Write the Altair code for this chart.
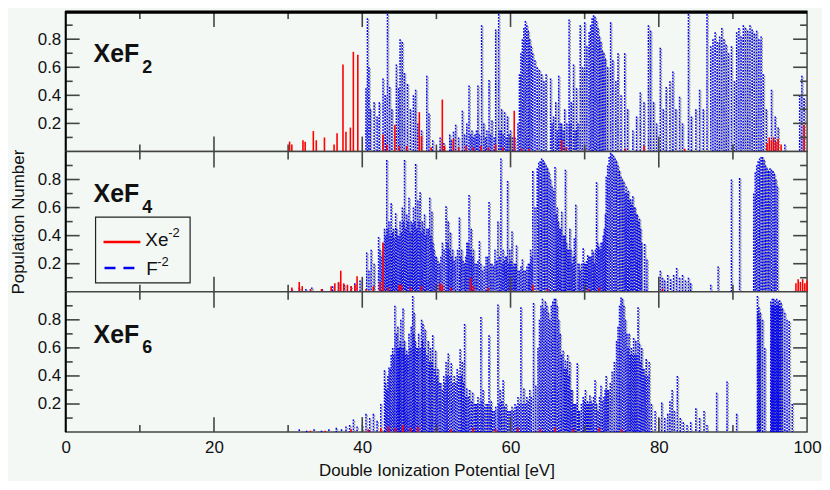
import altair as alt
import pandas as pd

# ---------------- axis values ----------------
X_DOMAIN = [0, 100]
Y_DOMAIN = [0, 1]
X_LABELS = [0, 20, 40, 60, 80, 100]
Y_LABELS = [0.2, 0.4, 0.6, 0.8]
Y_MINOR = [0.1, 0.3, 0.5, 0.7, 0.9]
X_MAJOR = [20, 40, 60, 80]
X_MINOR = [10, 30, 50, 70, 90]

# ---------------- XeF2 ----------------
XEF2_F = [
    (40.5, 0.45), (40.7, 0.95), (40.9, 0.6), (41.1, 0.3), (41.6, 0.35), (42.0, 0.25), (42.3, 0.35),
    (42.8, 0.52), (43.1, 0.4), (43.4, 0.98), (43.7, 0.46), (44.0, 0.3), (44.6, 0.62), (44.9, 0.45),
    (45.1, 0.8), (45.4, 0.78), (45.7, 0.56), (46.1, 0.48), (46.5, 0.3), (46.9, 0.4), (47.2, 0.44),
    (47.5, 0.2), (48.0, 0.15), (48.7, 0.54), (49.0, 0.27), (49.5, 0.08), (50.5, 0.1), (51.0, 0.06),
    (51.8, 0.12), (52.3, 0.14), (52.6, 0.19), (53.0, 0.1), (53.5, 0.29), (53.8, 0.12), (54.1, 0.2),
    (54.4, 0.47), (54.8, 0.15), (55.2, 0.12), (55.6, 0.47), (56.1, 0.9), (56.4, 0.2), (56.8, 0.15),
    (57.1, 0.51), (57.5, 0.22), (58.0, 0.87), (58.4, 0.98), (58.8, 0.3), (59.2, 0.28), (59.6, 0.25),
    (60.0, 0.15), (60.3, 0.1),
    (61.2, 0.55), (61.4, 0.7), (61.6, 0.8), (61.8, 0.88), (62.0, 0.93), (62.2, 0.9), (62.4, 0.86),
    (62.6, 0.8), (62.8, 0.75), (63.0, 0.7), (63.3, 0.65), (63.6, 0.6), (63.9, 0.58), (64.2, 0.55),
    (64.5, 0.5), (64.8, 0.55), (65.4, 0.52),
    (65.8, 0.25), (66.1, 0.35), (66.5, 0.54), (66.9, 0.2), (67.3, 0.3), (67.9, 0.94), (68.2, 0.35),
    (68.5, 0.62), (68.9, 0.45), (69.4, 0.9), (69.7, 0.6), (70.0, 0.92), (70.3, 0.75), (70.6, 0.85),
    (70.8, 0.9), (71.0, 0.95), (71.2, 0.97), (71.4, 0.96), (71.6, 0.93), (71.8, 0.88), (72.0, 0.82),
    (72.2, 0.78), (72.4, 0.72), (72.6, 0.7), (72.8, 0.66), (73.1, 0.6), (73.5, 0.92), (73.8, 0.65),
    (74.2, 0.5), (74.5, 0.7), (74.9, 0.4), (75.4, 0.7), (75.8, 0.3), (76.5, 0.15), (77.0, 0.25),
    (77.5, 0.42), (78.0, 0.35), (78.6, 0.9), (78.9, 0.86), (79.3, 0.35), (79.7, 0.2), (80.2, 0.74),
    (80.6, 0.3), (81.0, 0.46), (81.5, 0.5), (81.9, 0.57), (82.3, 0.3), (82.8, 0.39), (83.2, 0.2),
    (84.0, 0.98), (84.4, 0.25), (85.0, 0.3), (85.5, 0.44), (86.0, 0.3), (86.5, 0.98), (87.0, 0.75),
    (87.3, 0.8), (87.6, 0.85), (87.9, 0.78), (88.2, 0.82), (88.5, 0.88), (88.8, 0.8), (89.1, 0.76),
    (89.4, 0.7), (89.8, 0.75), (90.2, 0.5), (90.5, 0.85), (90.8, 0.88), (91.1, 0.82), (91.4, 0.9),
    (91.7, 0.88), (92.0, 0.86), (92.3, 0.9), (92.6, 0.87), (92.9, 0.84), (93.2, 0.86), (93.5, 0.8),
    (93.8, 0.82), (94.1, 0.55), (94.5, 0.3), (95.2, 0.44), (95.7, 0.25), (96.1, 0.17), (97.0, 0.05),
    (99.0, 0.4), (99.3, 0.54), (99.6, 0.38),
]
XEF2_F_LOW = [
    (52.0, 0.08), (54.6, 0.12), (55.0, 0.1), (55.4, 0.15), (55.8, 0.12), (56.6, 0.1), (57.3, 0.12),
    (57.8, 0.1), (58.6, 0.15), (59.0, 0.12), (59.4, 0.1), (59.8, 0.12), (60.6, 0.1), (61.0, 0.2),
    (65.6, 0.2), (66.3, 0.15), (66.7, 0.2), (67.1, 0.15), (67.6, 0.2), (68.0, 0.2), (68.7, 0.15),
    (69.1, 0.2),
]
XEF2_XE = [
    (30.2, 0.07), (30.5, 0.05), (32.0, 0.08), (32.3, 0.07), (33.4, 0.145), (33.8, 0.08), (34.9, 0.1),
    (36.2, 0.05), (36.6, 0.13), (37.4, 0.62), (37.8, 0.14), (38.4, 0.17), (38.8, 0.71), (39.4, 0.69),
    (42.8, 0.12), (43.3, 0.05), (44.4, 0.19), (45.0, 0.04), (46.0, 0.04), (47.7, 0.28), (48.0, 0.11),
    (49.3, 0.03), (50.8, 0.37), (51.1, 0.04), (52.3, 0.09), (53.0, 0.03), (54.0, 0.04), (55.0, 0.03),
    (56.0, 0.04), (57.0, 0.03), (58.0, 0.05), (59.0, 0.03), (60.5, 0.29), (61.5, 0.02), (62.5, 0.02),
    (66.9, 0.08), (67.5, 0.03), (70.0, 0.02), (75.5, 0.02), (78.0, 0.04), (83.5, 0.02), (94.6, 0.06),
    (94.9, 0.1), (95.2, 0.08), (95.5, 0.1), (95.8, 0.07), (96.1, 0.09), (96.5, 0.05), (99.6, 0.19),
]

# ---------------- XeF4 ----------------
XEF4_F = [
    (30.5, 0.02), (31.5, 0.03), (32.4, 0.02), (33.2, 0.03), (34.6, 0.02), (36.0, 0.04), (36.8, 0.06),
    (37.6, 0.05), (38.5, 0.04), (39.0, 0.06), (39.7, 0.08),
    (40.6, 0.28), (40.9, 0.15), (41.2, 0.3), (41.6, 0.2), (42.2, 0.39), (42.6, 0.25), (43.0, 0.45),
    (43.3, 0.94), (43.6, 0.5), (43.9, 0.63), (44.2, 0.45), (44.5, 0.56), (44.8, 0.4), (45.1, 0.5),
    (45.4, 0.6), (45.7, 0.94), (46.0, 0.55), (46.3, 0.67), (46.6, 0.5), (46.9, 0.6), (47.2, 0.91),
    (47.5, 0.65), (47.8, 0.71), (48.1, 0.5), (48.4, 0.55), (48.7, 0.45), (49.1, 0.67), (49.4, 0.57),
    (49.7, 0.3), (50.0, 0.25), (50.4, 0.2), (50.8, 0.35), (51.3, 0.61), (51.6, 0.5), (51.9, 0.42),
    (52.2, 0.3), (52.6, 0.25), (53.1, 0.53), (53.4, 0.3), (53.8, 0.2), (54.1, 0.35), (54.4, 0.69),
    (54.7, 0.45), (55.0, 0.3), (55.4, 0.2), (55.8, 0.36), (56.2, 0.15), (56.7, 0.25), (57.1, 0.64),
    (57.5, 0.2), (57.9, 0.3), (58.3, 0.5), (58.7, 0.95), (59.0, 0.3), (59.3, 0.25), (59.6, 0.79),
    (59.9, 0.3), (60.2, 0.43), (60.5, 0.2), (60.8, 0.33), (61.2, 0.15), (61.6, 0.23), (62.0, 0.15),
    (62.4, 0.2), (62.7, 0.3), (63.0, 0.86), (63.3, 0.6), (63.6, 0.88), (63.8, 0.92), (64.0, 0.93),
    (64.2, 0.95), (64.4, 0.94), (64.6, 0.92), (64.8, 0.9), (65.0, 0.88), (65.2, 0.85), (65.4, 0.8),
    (65.6, 0.75), (65.8, 0.72), (66.0, 0.89), (66.3, 0.6), (66.6, 0.45), (66.9, 0.57), (67.1, 0.4),
    (67.4, 0.87), (67.7, 0.3), (68.0, 0.45), (68.3, 0.2), (68.6, 0.38), (68.8, 0.62), (69.1, 0.2),
    (69.4, 0.15), (69.8, 0.31), (70.1, 0.2), (70.4, 0.26), (70.7, 0.25), (71.0, 0.3), (71.3, 0.2),
    (71.6, 0.78), (71.9, 0.32), (72.2, 0.35), (72.5, 0.4), (72.8, 0.55), (72.9, 0.82), (73.1, 0.9),
    (73.3, 0.96), (73.5, 0.99), (73.7, 0.98), (73.9, 0.97), (74.1, 0.95), (74.3, 0.93), (74.5, 0.9),
    (74.7, 0.86), (74.9, 0.82), (75.1, 0.8), (75.3, 0.78), (75.6, 0.75), (75.9, 0.72), (76.2, 0.66),
    (76.5, 0.68), (76.8, 0.6), (77.1, 0.55), (77.4, 0.52), (77.7, 0.35), (78.1, 0.34), (78.4, 0.23),
    (80.2, 0.15), (80.5, 0.1), (80.8, 0.08), (81.2, 0.12), (81.6, 0.09), (82.0, 0.12), (82.4, 0.17),
    (82.8, 0.1), (83.2, 0.12), (83.6, 0.08), (84.0, 0.1), (84.3, 0.06), (87.0, 0.05), (88.0, 0.18),
    (89.8, 0.8), (90.9, 0.81), (92.8, 0.7), (93.0, 0.85), (93.2, 0.9), (93.4, 0.93), (93.6, 0.95),
    (93.8, 0.96), (94.0, 0.96), (94.2, 0.94), (94.4, 0.9), (94.6, 0.88), (94.8, 0.86), (95.0, 0.88),
    (95.2, 0.87), (95.4, 0.86), (95.6, 0.84), (95.8, 0.8), (96.0, 0.75),
]
XEF4_F_LOW = [
    (42.4, 0.3), (42.8, 0.35), (43.15, 0.4), (43.45, 0.45), (43.75, 0.4), (44.05, 0.42), (44.35, 0.38),
    (44.65, 0.45), (44.95, 0.4), (45.25, 0.42), (45.55, 0.5), (45.85, 0.45), (46.15, 0.5), (46.45, 0.42),
    (46.75, 0.48), (47.05, 0.5), (47.35, 0.45), (47.65, 0.5), (47.95, 0.42), (48.25, 0.45), (48.55, 0.4),
    (48.9, 0.45), (49.25, 0.4), (49.55, 0.35), (49.85, 0.25), (50.2, 0.22), (50.6, 0.25), (51.05, 0.3),
    (51.45, 0.35), (51.75, 0.3), (52.05, 0.25), (52.4, 0.22), (52.85, 0.3), (53.25, 0.25), (53.6, 0.22),
    (53.95, 0.25), (54.25, 0.35), (54.55, 0.3), (54.85, 0.25), (55.2, 0.2), (55.6, 0.22), (56.0, 0.2),
    (56.45, 0.18), (56.9, 0.25), (57.3, 0.2), (57.7, 0.18), (58.1, 0.22), (58.5, 0.25), (58.85, 0.2),
    (59.15, 0.22), (59.45, 0.25), (59.75, 0.2), (60.05, 0.22), (60.35, 0.18), (60.65, 0.2), (61.0, 0.15),
    (61.4, 0.18), (61.8, 0.15), (62.2, 0.18), (62.55, 0.2), (62.85, 0.25), (66.15, 0.55), (66.45, 0.5),
    (66.75, 0.45), (67.25, 0.4), (67.55, 0.35), (67.85, 0.3), (68.15, 0.3), (68.45, 0.25), (69.25, 0.2),
    (69.6, 0.2), (69.95, 0.2), (70.25, 0.22), (70.55, 0.25), (70.85, 0.25), (71.15, 0.28), (71.45, 0.3),
    (71.75, 0.35), (72.05, 0.3), (72.35, 0.35), (72.65, 0.45), (75.45, 0.7), (75.75, 0.7), (76.05, 0.65),
    (76.35, 0.62), (76.65, 0.6), (76.95, 0.55), (77.25, 0.5), (77.55, 0.45),
]
XEF4_XE = [
    (30.5, 0.03), (31.5, 0.07), (31.9, 0.04), (33.0, 0.02), (34.5, 0.02), (35.8, 0.04), (36.3, 0.06),
    (36.8, 0.07), (37.1, 0.15), (37.5, 0.06), (38.0, 0.05), (38.5, 0.04), (39.0, 0.05), (39.3, 0.11),
    (40.5, 0.02), (41.5, 0.04), (42.4, 0.07), (42.8, 0.35), (43.5, 0.03), (45.0, 0.05), (45.3, 0.05),
    (46.5, 0.03), (48.0, 0.04), (50.5, 0.06), (50.8, 0.05), (52.0, 0.03), (54.6, 0.1), (55.0, 0.04),
    (57.0, 0.03), (60.0, 0.03), (63.0, 0.05), (65.0, 0.02), (70.5, 0.02), (72.0, 0.03), (80.5, 0.02),
    (98.5, 0.06), (98.8, 0.09), (99.1, 0.07), (99.4, 0.09), (99.7, 0.06), (100.0, 0.08),
]

# ---------------- XeF6 ----------------
XEF6_F = [
    (31.5, 0.02), (32.5, 0.01), (33.5, 0.02), (34.5, 0.01), (35.5, 0.02), (36.5, 0.03), (37.2, 0.02),
    (37.8, 0.04), (38.3, 0.05), (38.8, 0.09), (39.3, 0.04), (40.0, 0.05), (40.5, 0.13), (41.0, 0.1),
    (41.5, 0.13), (42.0, 0.08), (42.5, 0.2), (43.0, 0.44), (43.3, 0.3), (43.6, 0.46), (43.9, 0.55),
    (44.1, 0.6), (44.4, 0.9), (44.6, 0.7), (44.8, 0.75), (45.0, 0.6), (45.2, 0.8), (45.5, 0.88),
    (45.7, 0.65), (46.0, 0.58), (46.3, 0.7), (46.6, 0.75), (46.8, 0.97), (47.0, 0.85), (47.3, 0.6),
    (47.6, 0.7), (48.0, 0.8), (48.2, 0.77), (48.5, 0.73), (48.9, 0.65), (49.2, 0.6), (49.5, 0.69),
    (49.9, 0.58), (50.2, 0.45), (50.6, 0.35), (51.0, 0.4), (51.3, 0.5), (51.6, 0.56), (52.0, 0.49),
    (52.4, 0.4), (52.8, 0.45), (53.2, 0.59), (53.5, 0.5), (53.8, 0.77), (54.1, 0.31), (54.5, 0.3),
    (54.9, 0.28), (55.3, 0.2), (55.6, 0.25), (56.0, 0.82), (56.3, 0.3), (56.7, 0.2), (57.1, 0.69),
    (57.4, 0.22), (57.8, 0.15), (58.3, 0.91), (58.6, 0.3), (59.0, 0.37), (59.4, 0.2), (59.8, 0.15),
    (60.2, 0.18), (60.6, 0.2), (61.0, 0.25), (61.4, 0.89), (61.8, 0.31), (62.2, 0.25), (62.6, 0.3),
    (63.1, 0.92), (63.4, 0.33), (63.7, 0.6), (63.9, 0.8), (64.1, 0.9), (64.3, 0.95), (64.5, 0.88),
    (64.7, 0.93), (64.9, 0.9), (65.1, 0.85), (65.3, 0.8), (65.5, 0.9), (65.7, 0.93), (65.9, 0.95),
    (66.1, 0.95), (66.3, 0.9), (66.5, 0.8), (66.7, 0.7), (66.9, 0.55), (67.1, 0.58), (67.4, 0.51),
    (67.7, 0.55), (68.0, 0.5), (68.3, 0.3), (68.6, 0.2), (69.0, 0.49), (69.3, 0.15), (69.8, 0.25),
    (70.1, 0.3), (70.4, 0.22), (70.7, 0.26), (71.0, 0.2), (71.4, 0.37), (71.8, 0.15), (72.2, 0.33),
    (72.6, 0.25), (72.9, 0.4), (73.2, 0.3), (73.7, 0.43), (74.0, 0.5), (74.3, 0.65), (74.5, 0.75),
    (74.7, 0.9), (74.9, 0.96), (75.1, 0.95), (75.3, 0.9), (75.5, 0.8), (75.7, 0.7), (76.0, 0.7),
    (76.3, 0.6), (76.6, 0.67), (76.9, 0.65), (77.2, 0.89), (77.4, 0.63), (77.7, 0.6), (78.0, 0.45),
    (78.3, 0.52), (78.7, 0.5), (79.0, 0.2), (79.5, 0.15), (80.0, 0.1), (80.4, 0.21), (80.8, 0.1),
    (81.2, 0.13), (81.5, 0.22), (81.8, 0.3), (82.1, 0.15), (82.5, 0.4), (82.9, 0.1), (83.3, 0.07),
    (83.8, 0.05), (84.3, 0.07), (85.0, 0.17), (85.5, 0.1), (86.1, 0.15), (86.5, 0.05), (87.8, 0.28),
    (89.2, 0.36), (90.5, 0.13), (93.3, 0.97), (93.5, 0.89), (93.7, 0.85), (94.0, 0.8), (94.3, 0.6),
    (95.1, 0.93), (95.3, 0.95), (95.5, 0.95), (95.7, 0.94), (95.9, 0.95), (96.1, 0.93), (96.3, 0.94),
    (96.5, 0.92), (96.7, 0.88), (97.0, 0.85), (97.3, 0.8), (97.6, 0.79), (98.0, 0.2),
]
XEF6_F_LOW = [
    (43.15, 0.35), (43.45, 0.4), (43.75, 0.45), (44.25, 0.55), (44.7, 0.6), (44.9, 0.6), (45.1, 0.65),
    (45.35, 0.6), (45.6, 0.6), (45.85, 0.55), (46.15, 0.55), (46.45, 0.6), (46.9, 0.7), (47.15, 0.65),
    (47.45, 0.6), (47.8, 0.6), (48.1, 0.65), (48.35, 0.6), (48.7, 0.55), (49.05, 0.5), (49.35, 0.5),
    (49.7, 0.45), (50.05, 0.4), (50.4, 0.35), (50.8, 0.3), (51.15, 0.35), (51.45, 0.4), (51.8, 0.4),
    (52.2, 0.35), (52.6, 0.35), (53.0, 0.4), (53.35, 0.4), (53.65, 0.35), (53.95, 0.25), (54.3, 0.25),
    (54.7, 0.22), (55.1, 0.2), (55.45, 0.2), (55.8, 0.2), (56.15, 0.22), (56.5, 0.18), (56.9, 0.2),
    (57.25, 0.18), (57.6, 0.15), (58.0, 0.18), (58.45, 0.2), (58.8, 0.22), (59.2, 0.18), (59.6, 0.15),
    (60.0, 0.15), (60.4, 0.15), (60.8, 0.18), (61.2, 0.2), (61.6, 0.2), (62.0, 0.2), (62.4, 0.22),
    (62.8, 0.25), (67.25, 0.45), (67.55, 0.45), (67.85, 0.4), (68.15, 0.3), (68.45, 0.2), (68.8, 0.2),
    (69.15, 0.15), (69.55, 0.2), (69.95, 0.22), (70.25, 0.2), (70.55, 0.2), (70.85, 0.22), (71.2, 0.25),
    (71.6, 0.2), (72.0, 0.25), (72.4, 0.22), (72.75, 0.3), (73.05, 0.3), (73.45, 0.35), (75.85, 0.6),
    (76.15, 0.55), (76.45, 0.55), (76.75, 0.55), (77.05, 0.55), (77.55, 0.5), (77.85, 0.45), (78.15, 0.4),
    (78.5, 0.4), (93.4, 0.85), (93.6, 0.8), (95.2, 0.9), (95.4, 0.9), (95.6, 0.9), (95.8, 0.9),
    (96.0, 0.9), (96.2, 0.9), (96.4, 0.88),
]
XEF6_XE = [
    (33.0, 0.01), (35.0, 0.01), (38.5, 0.02), (40.8, 0.02), (42.5, 0.03), (43.5, 0.04), (44.5, 0.03),
    (45.5, 0.05), (46.5, 0.03), (47.5, 0.04), (50.0, 0.03), (52.0, 0.02), (55.0, 0.03), (58.0, 0.02),
    (61.0, 0.03), (64.0, 0.02), (66.0, 0.03), (68.5, 0.02), (72.0, 0.03), (75.0, 0.02),
]

# ---------------- text ----------------
PANEL_NAMES = [("XeF", "2"), ("XeF", "4"), ("XeF", "6")]
LEGEND_LABELS = [("Xe", "-2"), ("F", "-2")]
X_TITLE = "Double Ionization Potential [eV]"
Y_TITLE = "Population Number"

# ---------------- style ----------------
W, H = 745, 141
BG = "#f4f8f5"
FONT = "Liberation Sans"
BLUE = "#0000ee"
RED = "#ff0000"
GREY = "#8a8a8a"
TICK = "#444444"

xs = alt.Scale(domain=X_DOMAIN, nice=False, zero=False)
ys = alt.Scale(domain=Y_DOMAIN, nice=False, zero=False)
ONE = pd.DataFrame({"k": [0]})


def make_panel(f_pairs, xe_pairs, name, bottom=False, ytitle=False, legend=False, top=False):
    if bottom:
        xaxis = alt.Axis(values=X_LABELS, format="d", ticks=False, domain=False, grid=False,
                         labelFont=FONT, labelFontSize=17, labelColor="#111", labelPadding=8,
                         labelFlush=False, title=X_TITLE, titleFont=FONT, titleFontSize=17,
                         titleFontWeight="normal", titleColor="#111", titlePadding=7)
    else:
        xaxis = None
    yaxis = alt.Axis(values=Y_LABELS, format=".1f", ticks=False, domain=False, grid=False,
                     labelFont=FONT, labelFontSize=17, labelColor="#111", labelPadding=5,
                     title=Y_TITLE if ytitle else None, titleFont=FONT, titleFontSize=17,
                     titleFontWeight="normal", titleColor="#111", titlePadding=10)

    def X(field):
        return alt.X(field, type="quantitative", scale=xs, axis=xaxis)

    def Y(field):
        return alt.Y(field, type="quantitative", scale=ys, axis=yaxis)

    fdf = pd.DataFrame(f_pairs, columns=["x", "y"])
    fdf["y0"] = 0.0
    xdf = pd.DataFrame(xe_pairs, columns=["x", "y"])
    xdf["y0"] = 0.0

    grey = alt.Chart(fdf).mark_rule(color=GREY, strokeWidth=1.2, strokeDash=[1.5, 1.5],
                                    strokeDashOffset=1.5, xOffset=1.3).encode(
        x=X("x"), y=Y("y"), y2="y0")
    blue = alt.Chart(fdf).mark_rule(color=BLUE, strokeWidth=1.5, strokeDash=[1.8, 1.2]).encode(
        x=X("x"), y=Y("y"), y2="y0")
    red = alt.Chart(xdf).mark_rule(color=RED, strokeWidth=1.6).encode(
        x=X("x"), y=Y("y"), y2="y0")

    layers = [grey, blue, red]

    # inward ticks
    ymaj = pd.DataFrame({"v": Y_LABELS})
    ymin = pd.DataFrame({"v": Y_MINOR})
    xmaj = pd.DataFrame({"v": X_MAJOR})
    xmin = pd.DataFrame({"v": X_MINOR})
    tk = dict(color=TICK, strokeWidth=1.6)
    layers += [
        alt.Chart(ymaj).mark_rule(**tk).encode(y=Y("v"), x=alt.value(0), x2=alt.value(14)),
        alt.Chart(ymin).mark_rule(**tk).encode(y=Y("v"), x=alt.value(0), x2=alt.value(7)),
        alt.Chart(ymaj).mark_rule(**tk).encode(y=Y("v"), x=alt.value(W), x2=alt.value(W - 14)),
        alt.Chart(ymin).mark_rule(**tk).encode(y=Y("v"), x=alt.value(W), x2=alt.value(W - 7)),
        alt.Chart(xmaj).mark_rule(**tk).encode(x=X("v"), y=alt.value(0), y2=alt.value(16)),
        alt.Chart(xmin).mark_rule(**tk).encode(x=X("v"), y=alt.value(0), y2=alt.value(8)),
        alt.Chart(xmaj).mark_rule(**tk).encode(x=X("v"), y=alt.value(H), y2=alt.value(H - 15)),
        alt.Chart(xmin).mark_rule(**tk).encode(x=X("v"), y=alt.value(H), y2=alt.value(H - 7)),
    ]
    # frame lines
    layers.append(alt.Chart(ONE).mark_rule(color="#000", strokeWidth=2).encode(
        x=alt.value(0), y=alt.value(0), y2=alt.value(H)))
    if top:
        layers.append(alt.Chart(ONE).mark_rule(color="#000", strokeWidth=3).encode(
            x=alt.value(0), x2=alt.value(W), y=alt.value(1)))

    # panel name
    main, sub = name
    layers.append(alt.Chart(ONE).mark_text(align="left", baseline="alphabetic", font=FONT,
                                           fontSize=25, fontWeight="bold", color="#111").encode(
        x=alt.value(28), y=alt.value(51), text=alt.value(main)))
    layers.append(alt.Chart(ONE).mark_text(align="left", baseline="alphabetic", font=FONT,
                                           fontSize=18, fontWeight="bold", color="#111").encode(
        x=alt.value(77), y=alt.value(62), text=alt.value(sub)))

    if legend:
        layers.append(alt.Chart(ONE).mark_rect(fill=BG, stroke="#222", strokeWidth=1.2).encode(
            x=alt.value(30), x2=alt.value(125), y=alt.value(66), y2=alt.value(132)))
        layers.append(alt.Chart(ONE).mark_rule(color=RED, strokeWidth=2.5).encode(
            x=alt.value(38), x2=alt.value(75), y=alt.value(91)))
        layers.append(alt.Chart(ONE).mark_rule(color=BLUE, strokeWidth=2.5, strokeDash=[11, 8]).encode(
            x=alt.value(39), x2=alt.value(72), y=alt.value(117)))
        (l1, s1), (l2, s2) = LEGEND_LABELS
        for txt, xv, yv, fs in [(l1, 80, 95, 19), (s1, 103, 86, 13), (l2, 81, 124, 19), (s2, 92, 115, 13)]:
            layers.append(alt.Chart(ONE).mark_text(align="left", baseline="alphabetic", font=FONT,
                                                   fontSize=fs, color="#111").encode(
                x=alt.value(xv), y=alt.value(yv), text=alt.value(txt)))

    return alt.layer(*layers).properties(width=W, height=H)


p1 = make_panel(XEF2_F + XEF2_F_LOW, XEF2_XE, PANEL_NAMES[0], top=True)
p2 = make_panel(XEF4_F + XEF4_F_LOW, XEF4_XE, PANEL_NAMES[1], ytitle=True, legend=True)
p3 = make_panel(XEF6_F + XEF6_F_LOW, XEF6_XE, PANEL_NAMES[2], bottom=True)

chart = alt.vconcat(p1, p2, p3, spacing=0, bounds="flush").properties(
    background=BG, padding={"left": 0, "top": 0, "right": 0, "bottom": 0}
).configure_view(stroke="#444", strokeWidth=1.5, fill=BG)

chart.save("out.html", embed_options={"renderer": "svg", "actions": False})
